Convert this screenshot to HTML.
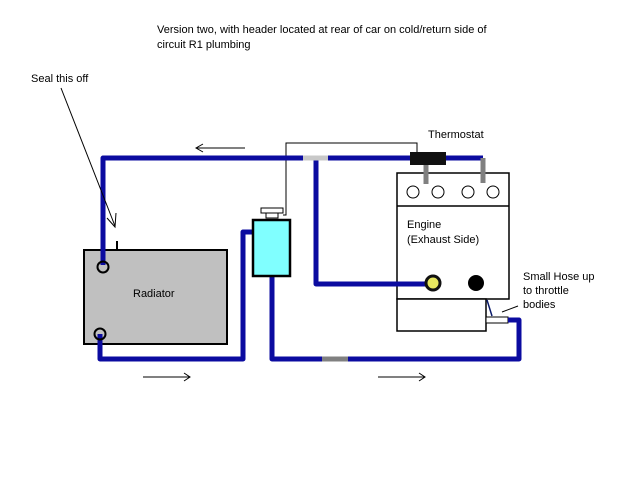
<!DOCTYPE html>
<html><head><style>
body{margin:0;background:#fff;}
svg text{font-family:"Liberation Sans",sans-serif;font-size:11px;fill:#000;}
</style></head><body>
<svg width="640" height="480" viewBox="0 0 640 480" xmlns="http://www.w3.org/2000/svg">
<rect width="640" height="480" fill="#fff"/>
<text x="157" y="33">Version two, with header located at rear of car on cold/return side of</text>
<text x="157" y="48">circuit R1 plumbing</text>
<text x="31" y="82">Seal this off</text>
<text x="428" y="138">Thermostat</text>
<!-- thin control line -->
<polyline points="283,215 286,215 286,143 417,143 417,153" fill="none" stroke="#000" stroke-width="1"/>
<!-- radiator -->
<rect x="84" y="250" width="143" height="94" fill="#c0c0c0" stroke="#000" stroke-width="2"/>
<line x1="117" y1="241" x2="117" y2="250" stroke="#000" stroke-width="2"/>
<text x="133" y="297">Radiator</text>
<!-- engine -->
<rect x="397" y="173" width="112" height="126" fill="#fff" stroke="#000" stroke-width="1.5"/>
<line x1="397" y1="206" x2="509" y2="206" stroke="#000" stroke-width="1.5"/>
<rect x="397" y="299" width="89" height="32" fill="#fff" stroke="#000" stroke-width="1.5"/>
<rect x="486" y="317" width="22" height="6" fill="#fff" stroke="#000" stroke-width="1"/>
<line x1="487" y1="300" x2="492" y2="316" stroke="#0a1a6a" stroke-width="1.5"/>
<line x1="502" y1="312" x2="518" y2="306" stroke="#000" stroke-width="1"/>
<g fill="none" stroke="#000" stroke-width="1"><circle cx="413" cy="192" r="6"/><circle cx="438" cy="192" r="6"/><circle cx="468" cy="192" r="6"/><circle cx="493" cy="192" r="6"/></g>
<text x="407" y="228">Engine</text>
<text x="407" y="243">(Exhaust Side)</text>
<text x="523" y="280">Small Hose up</text>
<text x="523" y="294">to throttle</text>
<text x="523" y="308">bodies</text>
<!-- pipes -->
<g fill="none" stroke="#0b0ba0" stroke-width="5" stroke-linejoin="round">
<polyline points="103,265 103,158 410,158"/>
<polyline points="446,158 483,158"/>
<polyline points="316,160 316,284 430,284"/>
<polyline points="100,334 100,359 243,359 243,232 253,232"/>
<polyline points="272,276 272,359 519,359 519,320 508,320"/>
</g>
<g stroke="#808080" stroke-width="5" fill="none">
<polyline points="483,158 483,183"/>
<line x1="426" y1="163" x2="426" y2="184"/>
<line x1="322" y1="359" x2="348" y2="359"/>
</g>
<line x1="303" y1="158" x2="328" y2="158" stroke="#c8c8c8" stroke-width="5"/>
<rect x="410" y="152" width="36" height="13" fill="#111"/>
<!-- ports -->
<circle cx="103" cy="267" r="5.5" fill="none" stroke="#000" stroke-width="2"/>
<circle cx="100" cy="334" r="5.5" fill="none" stroke="#000" stroke-width="2"/>
<circle cx="433" cy="283" r="7" fill="#e8e860" stroke="#111" stroke-width="3"/>
<circle cx="476" cy="283" r="8" fill="#000"/>
<!-- tank -->
<rect x="253" y="220" width="37" height="56" fill="#80ffff" stroke="#000" stroke-width="2.5"/>
<rect x="261" y="208" width="22" height="5" fill="#fff" stroke="#000" stroke-width="1"/>
<rect x="266" y="213" width="12" height="5" fill="#fff" stroke="#000" stroke-width="1"/>
<!-- seal arrow -->
<line x1="61" y1="88" x2="115" y2="226" stroke="#000" stroke-width="1"/>
<polyline points="107,218 115,227 116,213" fill="none" stroke="#000" stroke-width="1"/>
<!-- flow arrows -->
<g stroke="#000" stroke-width="1" fill="none">
<line x1="196" y1="148" x2="245" y2="148"/><polyline points="203,144 196,148 203,152"/>
<line x1="143" y1="377" x2="190" y2="377"/><polyline points="184,373 190,377 184,381"/>
<line x1="378" y1="377" x2="425" y2="377"/><polyline points="419,373 425,377 419,381"/>
</g>
</svg>
</body></html>
